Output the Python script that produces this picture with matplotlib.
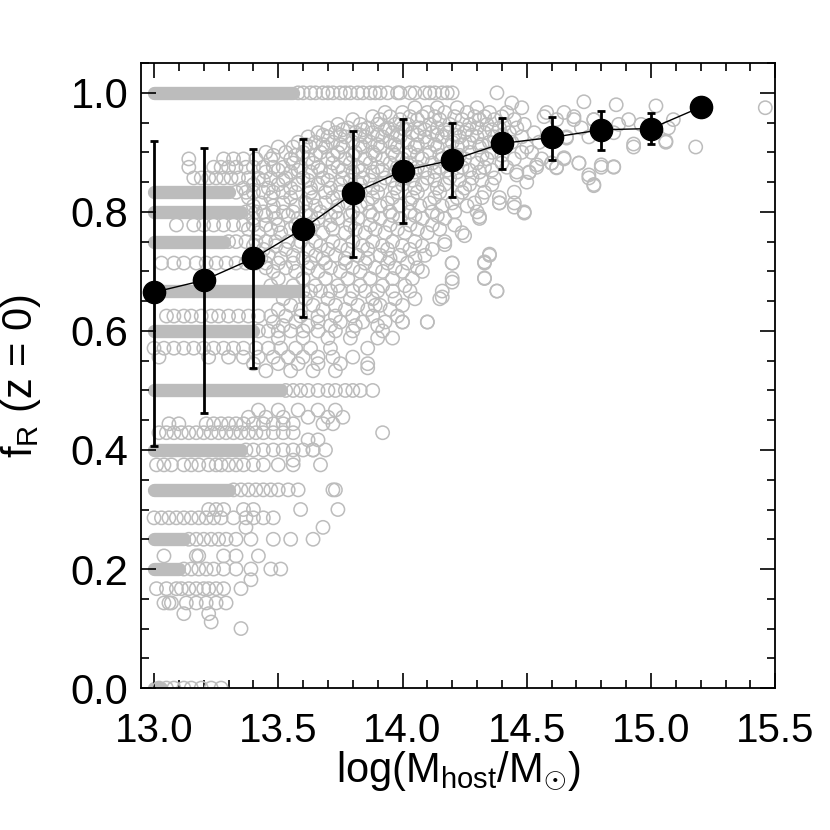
import matplotlib.pyplot as plt
import numpy as np
from matplotlib.ticker import MultipleLocator

plt.rcParams['font.family'] = ['Liberation Sans', 'DejaVu Sans']
plt.rcParams['mathtext.fontset'] = 'custom'
plt.rcParams['mathtext.rm'] = 'Liberation Sans'
plt.rcParams['mathtext.it'] = 'Liberation Sans:italic'

# binned medians with 1-sigma ranges
bin_x = [13.0, 13.2, 13.4, 13.6, 13.8, 14.0, 14.2, 14.4, 14.6, 14.8, 15.0, 15.2]
bin_med = [0.665, 0.685, 0.722, 0.772, 0.831, 0.869, 0.887, 0.915, 0.925, 0.938, 0.940, 0.976]
bin_hi = [0.919, 0.908, 0.906, 0.923, 0.936, 0.956, 0.950, 0.958, 0.960, 0.970, 0.966, 0.976]
bin_lo = [0.407, 0.462, 0.538, 0.624, 0.724, 0.782, 0.825, 0.872, 0.887, 0.904, 0.914, 0.976]

# fraction levels where the low-mass hosts pile up into solid bands
band_levels = [1.0, 0.833, 0.8, 0.75, 0.667, 0.6, 0.5, 0.4, 0.333, 0.25, 0.2, 0.0]
band_lo = [13.0] * 12
band_hi = [13.56, 13.30, 13.35, 13.28, 13.58, 13.40, 13.51, 13.35, 13.30, 13.12, 13.10, 13.03]

# individual hosts, grouped by their fraction level
row_levels = [1.0, 0.975, 0.967, 0.960, 0.955, 0.947, 0.941, 0.933, 0.926, 0.917,
              0.909, 0.900, 0.889, 0.882, 0.875, 0.867, 0.857, 0.846, 0.833, 0.824,
              0.815, 0.800, 0.789, 0.778, 0.765, 0.750, 0.737, 0.727, 0.714, 0.700,
              0.688, 0.667, 0.654, 0.643, 0.625, 0.615, 0.600, 0.588, 0.571, 0.556,
              0.545, 0.533, 0.500, 0.467, 0.455, 0.444, 0.429, 0.400, 0.375, 0.333,
              0.300, 0.286, 0.270, 0.250, 0.222, 0.200, 0.182, 0.167, 0.143, 0.125,
              0.111, 0.100, 0.0,
              0.938, 0.929, 0.913, 0.895, 0.870, 0.853, 0.840, 0.810, 0.794, 0.771,
              0.743, 0.722, 0.706, 0.676, 0.636, 0.609]
row_x = [
    [13.58, 13.60, 13.63, 13.65, 13.68, 13.70, 13.72, 13.75, 13.77, 13.79, 13.82, 13.84,
     13.87, 13.89, 13.91, 13.94, 13.98, 13.99, 14.03, 14.05, 14.09, 14.11, 14.13, 14.16,
     14.18, 14.20, 14.38],
    [14.05, 14.14, 14.22, 14.30, 14.48, 15.46],
    [13.93, 14.00, 14.10, 14.17, 14.26, 14.35, 14.42, 14.58, 14.65],
    [13.88, 13.95, 14.03, 14.08, 14.13, 14.21, 14.29, 14.33, 14.40, 14.57, 14.69],
    [13.80, 13.91, 13.99, 14.06, 14.15, 14.24, 14.31, 14.37, 14.45, 14.62, 14.77, 14.91, 15.09],
    [13.74, 13.83, 13.90, 13.97, 14.02, 14.11, 14.19, 14.27, 14.34, 14.41, 14.49, 14.87, 14.96],
    [13.70, 13.78, 13.86, 13.94, 14.00, 14.07, 14.14, 14.22, 14.30, 14.39, 14.46, 14.72, 15.07],
    [13.66, 13.73, 13.81, 13.88, 13.96, 14.04, 14.12, 14.18, 14.25, 14.33, 14.43, 14.53, 14.85],
    [13.62, 13.70, 13.77, 13.85, 13.92, 13.99, 14.09, 14.16, 14.23, 14.30, 14.37, 14.48,
     14.66, 14.75],
    [13.58, 13.65, 13.72, 13.80, 13.87, 13.95, 14.02, 14.10, 14.20, 14.27, 14.35, 14.44,
     14.55, 15.06],
    [13.50, 13.56, 13.63, 13.69, 13.76, 13.84, 13.91, 13.98, 14.05, 14.14, 14.22, 14.31,
     14.41, 14.50, 14.93, 15.18],
    [13.45, 13.53, 13.60, 13.67, 13.74, 13.81, 13.88, 13.96, 14.03, 14.11, 14.19, 14.27,
     14.36, 14.48, 14.52],
    [13.14, 13.28, 13.32, 13.36, 13.41, 13.47, 13.55, 13.62, 13.70, 13.77, 13.85, 13.92,
     14.00, 14.08, 14.16, 14.25, 14.34, 14.45, 14.56, 14.65],
    [13.56, 13.64, 13.72, 13.79, 13.87, 13.95, 14.03, 14.12, 14.21, 14.30, 14.40, 14.60, 14.71],
    [13.14, 13.24, 13.27, 13.30, 13.33, 13.37, 13.40, 13.44, 13.48, 13.52, 13.59, 13.66,
     13.74, 13.82, 13.90, 13.98, 14.06, 14.15, 14.24, 14.33, 14.42, 14.54, 14.62, 14.80, 14.85],
    [13.45, 13.55, 13.63, 13.71, 13.80, 13.88, 13.97, 14.05, 14.13, 14.22, 14.31, 14.46, 14.51],
    [13.16, 13.19, 13.22, 13.25, 13.28, 13.31, 13.34, 13.38, 13.42, 13.47, 13.53, 13.60,
     13.68, 13.76, 13.84, 13.93, 14.01, 14.10, 14.19, 14.28, 14.37, 14.75],
    [13.40, 13.50, 13.58, 13.66, 13.75, 13.83, 13.91, 14.00, 14.08, 14.17, 14.27, 14.36, 14.77],
    [13.33, 13.37, 13.40, 13.44, 13.48, 13.52, 13.57, 13.63, 13.69, 13.75, 13.82, 13.90,
     13.98, 14.06, 14.15, 14.24, 14.33, 14.45],
    [13.38, 13.47, 13.55, 13.64, 13.72, 13.80, 13.88, 13.96, 14.04, 14.13, 14.22, 14.32, 14.39],
    [13.43, 13.52, 13.61, 13.69, 13.78, 13.86, 13.94, 14.03, 14.11, 14.20, 14.29, 14.39, 14.45],
    [13.37, 13.41, 13.44, 13.48, 13.52, 13.56, 13.61, 13.67, 13.73, 13.80, 13.87, 13.95,
     14.03, 14.12, 14.21, 14.30, 14.49],
    [13.40, 13.49, 13.58, 13.66, 13.74, 13.82, 13.91, 13.99, 14.08, 14.17, 14.31],
    [13.09, 13.16, 13.20, 13.24, 13.28, 13.32, 13.36, 13.40, 13.45, 13.50, 13.57, 13.64,
     13.71, 13.79, 13.87, 13.95, 14.03, 14.12, 14.21],
    [13.42, 13.51, 13.60, 13.68, 13.77, 13.85, 13.93, 14.01, 14.10, 14.24],
    [13.30, 13.33, 13.37, 13.41, 13.45, 13.49, 13.54, 13.59, 13.65, 13.72, 13.80, 13.88,
     13.96, 14.05, 14.17],
    [13.44, 13.53, 13.62, 13.70, 13.78, 13.86, 13.94, 14.03, 14.12],
    [13.46, 13.56, 13.65, 13.73, 13.82, 13.91, 13.99, 14.09, 14.35],
    [13.03, 13.08, 13.12, 13.17, 13.21, 13.25, 13.29, 13.33, 13.37, 13.41, 13.45, 13.50,
     13.56, 13.63, 13.69, 13.77, 13.85, 13.94, 14.02, 14.20, 14.33],
    [13.48, 13.57, 13.66, 13.75, 13.83, 13.92, 14.00, 14.08],
    [13.50, 13.60, 13.69, 13.78, 13.87, 13.96, 14.04, 14.20, 14.33],
    [13.60, 13.63, 13.67, 13.71, 13.75, 13.80, 13.85, 13.90, 13.96, 14.03, 14.16, 14.38],
    [13.52, 13.61, 13.70, 13.79, 13.88, 13.97, 14.05, 14.15],
    [13.55, 13.64, 13.73, 13.82, 13.91, 14.00, 13.89],
    [13.05, 13.08, 13.12, 13.15, 13.19, 13.23, 13.26, 13.30, 13.34, 13.38, 13.42, 13.47,
     13.53, 13.59, 13.66, 13.73, 13.80, 13.88, 13.98],
    [13.48, 13.57, 13.66, 13.75, 13.84, 13.93, 14.00, 14.10],
    [13.42, 13.46, 13.50, 13.55, 13.60, 13.66, 13.73, 13.80, 13.92],
    [13.50, 13.60, 13.70, 13.79, 13.90, 13.96],
    [13.00, 13.04, 13.08, 13.12, 13.16, 13.20, 13.24, 13.28, 13.32, 13.36, 13.41, 13.46,
     13.51, 13.57, 13.63, 13.71, 13.86],
    [13.02, 13.22, 13.30, 13.36, 13.42, 13.48, 13.54, 13.60, 13.66, 13.72, 13.80],
    [13.40, 13.50, 13.58, 13.66, 13.75, 13.86],
    [13.45, 13.55, 13.64, 13.73],
    [13.53, 13.56, 13.59, 13.62, 13.66, 13.70, 13.73, 13.77, 13.80, 13.83, 13.88],
    [13.42, 13.50, 13.58, 13.66, 13.73],
    [13.38, 13.45, 13.52, 13.62, 13.70, 13.76],
    [13.06, 13.10, 13.21, 13.24, 13.27, 13.30, 13.33, 13.36, 13.40, 13.44, 13.48, 13.52,
     13.56, 13.68, 13.72],
    [13.02, 13.05, 13.08, 13.11, 13.14, 13.17, 13.20, 13.23, 13.26, 13.29, 13.32, 13.35,
     13.38, 13.41, 13.44, 13.48, 13.52, 13.56, 13.92],
    [13.37, 13.40, 13.44, 13.48, 13.52, 13.56, 13.60, 13.64, 13.69],
    [13.01, 13.04, 13.07, 13.12, 13.15, 13.18, 13.22, 13.25, 13.27, 13.30, 13.33, 13.36,
     13.40, 13.44, 13.50, 13.56, 13.67],
    [13.32, 13.35, 13.38, 13.41, 13.44, 13.47, 13.50, 13.54, 13.58, 13.72, 13.73],
    [13.22, 13.25, 13.28, 13.36, 13.40, 13.74, 13.59],
    [13.00, 13.03, 13.06, 13.09, 13.12, 13.15, 13.18, 13.21, 13.24, 13.27, 13.32, 13.37,
     13.40, 13.44, 13.48],
    [13.37, 13.68],
    [13.14, 13.17, 13.20, 13.23, 13.26, 13.29, 13.33, 13.39, 13.48, 13.55, 13.64],
    [13.04, 13.17, 13.18, 13.28, 13.33, 13.42],
    [13.12, 13.15, 13.18, 13.21, 13.24, 13.28, 13.33, 13.39, 13.47, 13.51],
    [13.39],
    [13.01, 13.05, 13.09, 13.11, 13.14, 13.17, 13.20, 13.22, 13.25, 13.28, 13.35],
    [13.04, 13.06, 13.07, 13.13, 13.17, 13.21, 13.25, 13.29],
    [13.12, 13.22],
    [13.23],
    [13.35],
    [13.02, 13.05, 13.08, 13.12, 13.15, 13.19, 13.23, 13.27],
    # in-between fractions of the richer hosts
    [13.76, 13.84, 13.93, 14.01, 14.09, 14.17, 14.26, 14.36],
    [13.68, 13.75, 13.83, 13.90, 13.98, 14.06, 14.14, 14.21, 14.28, 14.40],
    [13.61, 13.68, 13.75, 13.83, 13.90, 13.97, 14.06, 14.13, 14.24, 14.32],
    [13.48, 13.57, 13.65, 13.72, 13.80, 13.89, 13.97, 14.06, 14.15, 14.23, 14.32, 14.40],
    [13.50, 13.58, 13.67, 13.76, 13.84, 13.92, 14.01, 14.09, 14.18, 14.27, 14.36],
    [13.44, 13.52, 13.62, 13.70, 13.79, 13.87, 13.96, 14.04, 14.13, 14.23, 14.32],
    [13.36, 13.46, 13.55, 13.63, 13.71, 13.80, 13.88, 13.97, 14.05, 14.14, 14.25],
    [13.40, 13.48, 13.57, 13.65, 13.74, 13.83, 13.91, 13.99, 14.07, 14.16, 14.26],
    [13.45, 13.54, 13.63, 13.71, 13.79, 13.88, 13.96, 14.05, 14.14],
    [13.38, 13.47, 13.55, 13.63, 13.72, 13.81, 13.89, 13.98, 14.06, 14.15],
    [13.40, 13.49, 13.58, 13.67, 13.75, 13.84, 13.92, 14.00, 14.08],
    [13.43, 13.51, 13.60, 13.68, 13.77, 13.86, 13.95, 14.05],
    [13.45, 13.53, 13.62, 13.71, 13.80, 13.89, 13.97, 14.06],
    [13.47, 13.56, 13.65, 13.74, 13.83, 13.92, 14.01],
    [13.50, 13.59, 13.68, 13.77, 13.86, 13.95],
    [13.52, 13.62, 13.71, 13.81, 13.90],
]

# scattered hosts off the main fraction rows
extra_x = [14.73, 14.86, 15.02, 14.93, 15.06, 14.77, 14.80, 14.85, 14.75, 14.77, 14.71, 14.65,
           14.66, 14.69, 14.62, 14.60, 14.54, 14.50, 14.45, 14.49, 14.39, 14.31, 14.25, 14.35,
           14.33, 14.33, 14.38, 14.20, 14.16, 14.17, 14.20, 14.51, 14.46, 14.44, 14.10, 13.86,
           14.00, 13.56, 13.62, 13.66, 13.64]
extra_y = [0.985, 0.980, 0.978, 0.914, 0.919, 0.955, 0.879, 0.876, 0.862, 0.844, 0.882, 0.891,
           0.924, 0.955, 0.874, 0.882, 0.879, 0.850, 0.808, 0.798, 0.815, 0.792, 0.760, 0.729,
           0.716, 0.689, 0.667, 0.682, 0.657, 0.745, 0.714, 0.866, 0.862, 0.983, 0.615, 0.538,
           0.615, 0.383, 0.417, 0.417, 0.400]

gray = '#bcbcbc'

fig, ax = plt.subplots(figsize=(8.3, 8.3), dpi=100)
fig.subplots_adjust(left=0.170, right=0.934, bottom=0.171, top=0.924)

# solid bands of overlapping circles
for lev, lo, hi in zip(band_levels, band_lo, band_hi):
    ax.plot([lo, hi], [lev, lev], color=gray, lw=9.6, solid_capstyle='round', zorder=1)

pts_x = np.concatenate([np.array(xs) for xs in row_x] + [np.array(extra_x)])
pts_y = np.concatenate([np.full(len(xs), lev) for lev, xs in zip(row_levels, row_x)]
                       + [np.array(extra_y)])
ax.scatter(pts_x, pts_y, s=92, facecolors='none', edgecolors=gray, linewidths=1.1, zorder=2)

# medians
med = np.array(bin_med)
yerr = [med - np.array(bin_lo), np.array(bin_hi) - med]
ax.plot(bin_x, bin_med, color='black', lw=1.0, zorder=3)
ax.errorbar(bin_x, bin_med, yerr=yerr, fmt='none', ecolor='black', elinewidth=2.0,
            capsize=3, capthick=2.0, zorder=4)
ax.plot(bin_x, bin_med, 'o', color='black', ms=16, zorder=5)

ax.set_xlim(12.948, 15.5)
ax.set_ylim(0.0, 1.05)
ax.xaxis.set_major_locator(MultipleLocator(0.5))
ax.xaxis.set_minor_locator(MultipleLocator(0.1))
ax.yaxis.set_major_locator(MultipleLocator(0.2))
ax.yaxis.set_minor_locator(MultipleLocator(0.05))
ax.xaxis.set_major_formatter(plt.FormatStrFormatter('%.1f'))
ax.yaxis.set_major_formatter(plt.FormatStrFormatter('%.1f'))
ax.tick_params(which='both', direction='in', top=True, right=True, width=1.2)
ax.tick_params(which='major', length=11)
ax.tick_params(which='minor', length=6)
ax.tick_params(axis='x', labelsize=29, pad=17)
ax.tick_params(axis='y', labelsize=30, pad=9)
for sp in ax.spines.values():
    sp.set_linewidth(1.3)

ax.set_xlabel(r'log(M$_{\mathrm{host}}$/M$_{\odot}$)', fontsize=30, labelpad=0)
ax.set_ylabel(r'f$_{\mathrm{R}}$ (z = 0)', fontsize=30, labelpad=20)

fig.savefig('out.png', dpi=100)
